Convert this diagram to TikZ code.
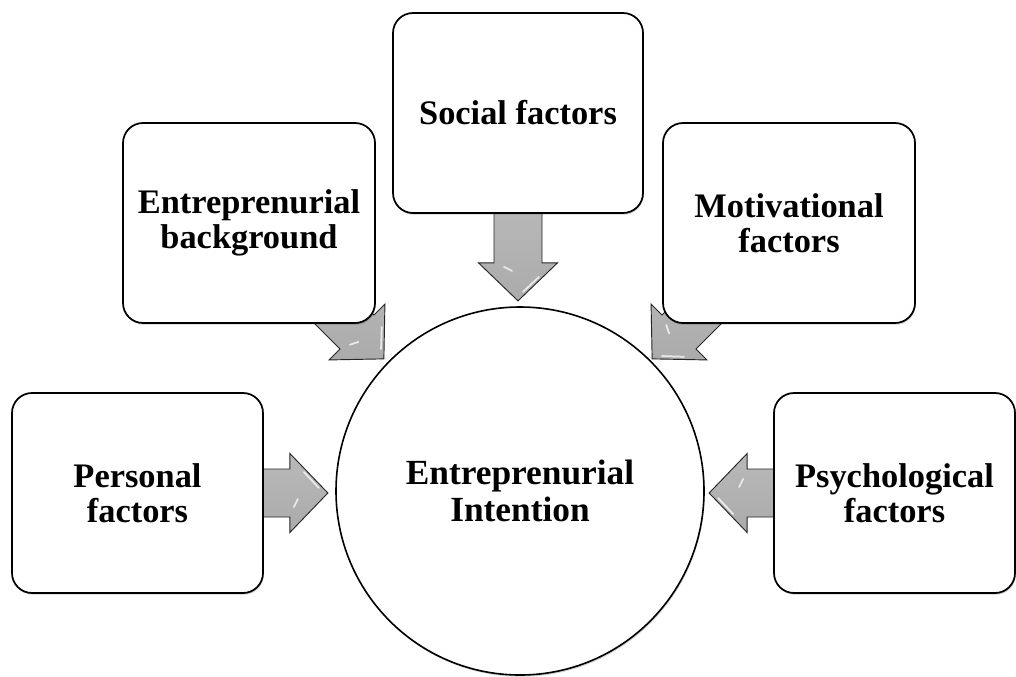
\documentclass[tikz,border=0pt]{standalone}
\usepackage{fontspec}
\setmainfont{Liberation Serif}
\usetikzlibrary{calc,shadows}
\pgfdeclarelayer{bg}
\pgfsetlayers{bg,main}
\tikzset{
  box/.style={draw=black, line width=1.3pt, rounded corners=15pt, fill=white,
    align=center, minimum height=150pt, inner sep=0pt,
    font=\fontsize{25.8}{26.5}\selectfont\bfseries,
    drop shadow={shadow xshift=0.6pt, shadow yshift=-1.3pt, fill=black, opacity=0.18}},
  hub/.style={circle, draw=black, line width=1.2pt, fill=white, minimum size=276pt,
    inner sep=0pt, align=center, font=\fontsize{26.5}{27.5}\selectfont\bfseries,
    drop shadow={shadow xshift=0.6pt, shadow yshift=-1.3pt, fill=black, opacity=0.18}},
  blockarr/.style={draw=black!85, line width=0.7pt, top color=gray!55,
    bottom color=gray!66, line join=miter},
  gloss/.style={white, line width=1.3pt, opacity=0.75, line cap=round}
}
\newcommand\blockarrow[3]{%
  \begin{scope}[shift={(#1)},rotate=#2]
    \path[blockarr] (0,0) -- (-38,39.5) -- (-38,24) -- (-#3,24) -- (-#3,-24)
      -- (-38,-24) -- (-38,-39.5) -- cycle;
    \draw[gloss] (-9,-5) -- (-24,-21);
    \draw[gloss] (-30,6) -- (-34,14);
  \end{scope}}
\begin{document}
\begin{tikzpicture}[x=0.75pt,y=-0.75pt]
  \useasboundingbox (0,0) rectangle (1016,676);
  % boxes
  \node[box, minimum width=187.5pt] (soc) at (518,113) {Social factors};
  \node[box, minimum width=189pt] (eb) at (249,223) {Entreprenurial\\background};
  \node[box, minimum width=189pt] (mot) at (789,223) {Motivational\\factors};
  \node[box, minimum width=188.25pt] (pers) at (137.5,493) {Personal\\factors};
  \node[box, minimum width=180.75pt] (psy) at (894.5,493) {Psychological\\factors};
  % hub
  \node[hub] (ei) at (520,491) {Entreprenurial\\Intention};
  % arrow tips
  \coordinate (tS) at ($(soc.south)+(0,87)$);
  \coordinate (tE) at ($(eb.south east)+(8,35)$);
  \coordinate (tM) at ($(mot.south west)+(-10,35)$);
  \coordinate (tP) at ($(pers.east)+(64,0)$);
  \coordinate (tY) at ($(psy.west)+(-64,0)$);
  \begin{pgfonlayer}{bg}
    \blockarrow{tS}{-90}{100}
    \blockarrow{tE}{-45}{110}
    \blockarrow{tM}{-135}{110}
    \blockarrow{tP}{0}{75}
    \blockarrow{tY}{180}{75}
  \end{pgfonlayer}
\end{tikzpicture}
\end{document}
